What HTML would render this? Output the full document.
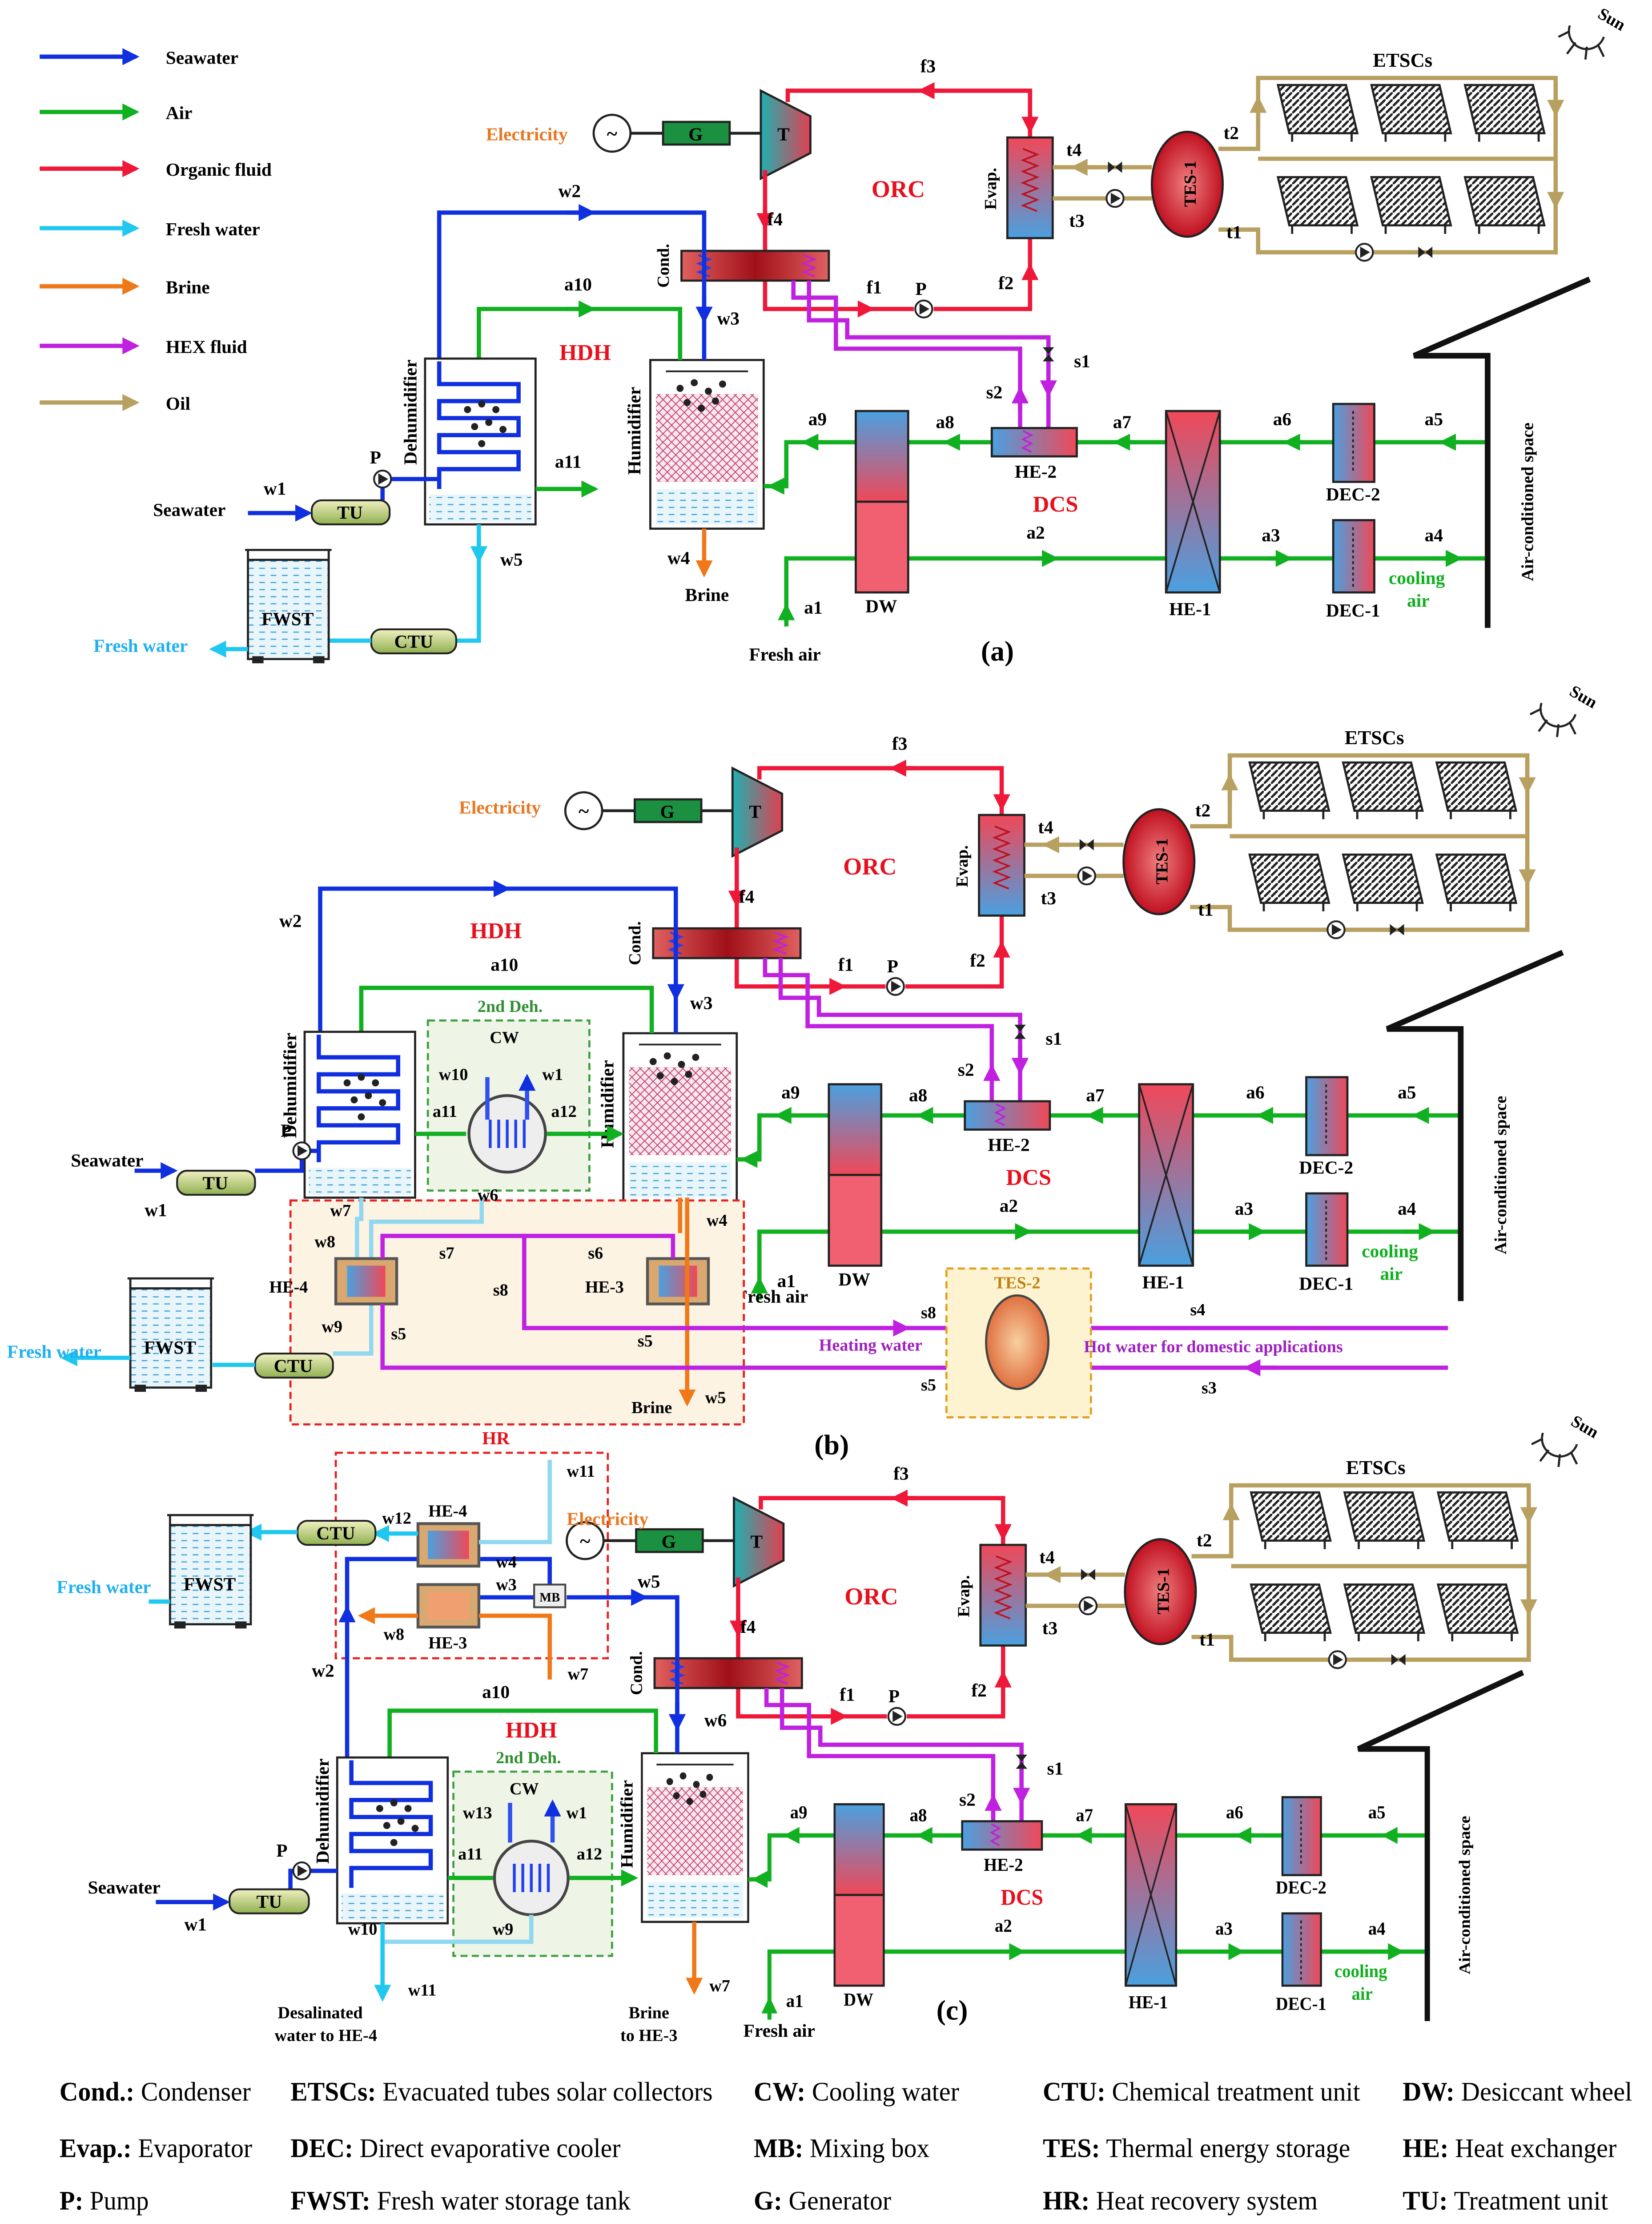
<!DOCTYPE html>
<html><head><meta charset="utf-8"><style>
html,body{margin:0;padding:0;background:#fff;overflow:hidden;width:3715px;height:5025px}
svg{display:block}
text{font-family:"Liberation Serif",serif;font-weight:bold}
text.n{font-weight:normal}
text.n tspan{font-weight:bold}
</style></head><body>
<svg xmlns="http://www.w3.org/2000/svg" xmlns:xlink="http://www.w3.org/1999/xlink" width="3715" height="5025" viewBox="0 0 1166 1577" preserveAspectRatio="none">
<defs>
<marker id="mb" viewBox="0 0 10 10" refX="8" refY="5" markerWidth="5" markerHeight="4" orient="auto"><path d="M0,0L10,5L0,10z" fill="#1030e0"/></marker>
<marker id="mg" viewBox="0 0 10 10" refX="8" refY="5" markerWidth="5" markerHeight="4" orient="auto"><path d="M0,0L10,5L0,10z" fill="#10b020"/></marker>
<marker id="mr" viewBox="0 0 10 10" refX="8" refY="5" markerWidth="5" markerHeight="4" orient="auto"><path d="M0,0L10,5L0,10z" fill="#f01838"/></marker>
<marker id="mc" viewBox="0 0 10 10" refX="8" refY="5" markerWidth="5" markerHeight="4" orient="auto"><path d="M0,0L10,5L0,10z" fill="#20c8f0"/></marker>
<marker id="mo" viewBox="0 0 10 10" refX="8" refY="5" markerWidth="5" markerHeight="4" orient="auto"><path d="M0,0L10,5L0,10z" fill="#f07818"/></marker>
<marker id="mp" viewBox="0 0 10 10" refX="8" refY="5" markerWidth="5" markerHeight="4" orient="auto"><path d="M0,0L10,5L0,10z" fill="#c020e0"/></marker>
<marker id="mt" viewBox="0 0 10 10" refX="8" refY="5" markerWidth="5" markerHeight="4" orient="auto"><path d="M0,0L10,5L0,10z" fill="#b8a060"/></marker>
<linearGradient id="gRB" x1="0" y1="0" x2="0" y2="1"><stop offset="0" stop-color="#f04858"/><stop offset="1" stop-color="#4aa0e0"/></linearGradient>
<linearGradient id="gBR" x1="0" y1="0" x2="0" y2="1"><stop offset="0" stop-color="#4aa0e0"/><stop offset="1" stop-color="#f04858"/></linearGradient>
<linearGradient id="gLR" x1="0" y1="0" x2="1" y2="0"><stop offset="0" stop-color="#4aa0e0"/><stop offset="1" stop-color="#f04858"/></linearGradient>
<linearGradient id="gCond" x1="0" y1="0" x2="1" y2="0"><stop offset="0" stop-color="#e06060"/><stop offset="0.5" stop-color="#a01018"/><stop offset="1" stop-color="#e06060"/></linearGradient>
<linearGradient id="gT" x1="0" y1="0" x2="1" y2="0"><stop offset="0" stop-color="#20b0b0"/><stop offset="1" stop-color="#e04050"/></linearGradient>
<radialGradient id="gTES"><stop offset="0" stop-color="#f08080"/><stop offset="1" stop-color="#c01020"/></radialGradient>
<linearGradient id="gTU" x1="0" y1="0" x2="0" y2="1"><stop offset="0" stop-color="#f0f0c0"/><stop offset="1" stop-color="#90b050"/></linearGradient>
<radialGradient id="gT2"><stop offset="0" stop-color="#f8d0a0"/><stop offset="1" stop-color="#e07040"/></radialGradient>
<pattern id="hatch" width="5" height="5" patternUnits="userSpaceOnUse"><rect width="5" height="5" fill="#fff"/><path d="M0,5L5,0" stroke="#222" stroke-width="1.6"/></pattern>
<pattern id="xh" width="6" height="6" patternUnits="userSpaceOnUse"><rect width="6" height="6" fill="#fbe8ee"/><path d="M0,6L6,0M0,0L6,6" stroke="#c04070" stroke-width="0.6"/></pattern>
<pattern id="wat" width="8" height="5" patternUnits="userSpaceOnUse"><rect width="8" height="5" fill="#e8f6fc"/><path d="M0,3h4" stroke="#40a0d0" stroke-width="0.8"/></pattern>

<g id="col"><polygon points="0,0 48,0 56,34 8,34" fill="url(#hatch)" stroke="#222" stroke-width="1.5"/><path d="M10,34v6M52,34v6" stroke="#222" stroke-width="1.5"/></g>
<g id="valve"><path d="M-5,-4L5,4L5,-4L-5,4z" fill="#222"/></g>
<g id="pump"><circle r="6" fill="#fff" stroke="#222" stroke-width="1.3"/><path d="M-3,-4L4,0L-3,4z" fill="#222"/></g>

<g id="T">
 <circle cx="432" cy="94" r="13" fill="#fff" stroke="#222" stroke-width="1.5"/>
 <text x="432" y="99" font-size="14" text-anchor="middle">~</text>
 <path d="M445,94H468M515,94H537" stroke="#222" stroke-width="2"/>
 <rect x="468" y="86" width="47" height="16" fill="#1a9040" stroke="#222" stroke-width="1.5"/>
 <text x="491" y="99" font-size="13" text-anchor="middle">G</text>
 <polygon points="537,64 572,82 572,108 537,126" fill="url(#gT)" stroke="#222" stroke-width="1.5"/>
 <text x="553" y="99" font-size="13" text-anchor="middle">T</text>
 <path d="M556,72V64H727V97" fill="none" stroke="#f01838" stroke-width="3"/>
 <path d="M665,64H650" stroke="#f01838" stroke-width="3" marker-end="url(#mr)"/>
 <path d="M727,80V92" stroke="#f01838" stroke-width="3" marker-end="url(#mr)"/>
 <path d="M540,120V218H645M659,218H727V168" fill="none" stroke="#f01838" stroke-width="3"/>
 <path d="M540,145V160" stroke="#f01838" stroke-width="3" marker-end="url(#mr)"/>
 <path d="M600,218H615" stroke="#f01838" stroke-width="3" marker-end="url(#mr)"/>
 <path d="M727,200V188" stroke="#f01838" stroke-width="3" marker-end="url(#mr)"/>
 <use xlink:href="#pump" x="652" y="218"/>
 <text x="650" y="208" font-size="13" text-anchor="middle">P</text>
 <text x="655" y="51" font-size="13" text-anchor="middle">f3</text>
 <text x="547" y="159" font-size="13" text-anchor="middle">f4</text>
 <text x="617" y="207" font-size="13" text-anchor="middle">f1</text>
 <text x="710" y="204" font-size="13" text-anchor="middle">f2</text>
 <text x="634" y="139" font-size="17" fill="#e8101c" text-anchor="middle">ORC</text>
 <rect x="481" y="177" width="104" height="21" fill="url(#gCond)" stroke="#222" stroke-width="1.5"/>
 <path d="M493,180l8,3l-8,3l8,3l-8,3l8,3" fill="none" stroke="#2040f0" stroke-width="1.2"/>
 <path d="M567,180l8,3l-8,3l8,3l-8,3l8,3" fill="none" stroke="#c020e0" stroke-width="1.2"/>
 <text transform="translate(472,203) rotate(-90)" font-size="12">Cond.</text>
 <path d="M571,198V226H598V238H740V302" fill="none" stroke="#c020e0" stroke-width="3"/>
 <path d="M560,198V210H590V246H720V302" fill="none" stroke="#c020e0" stroke-width="3"/>
 <path d="M740,260V278" stroke="#c020e0" stroke-width="3" marker-end="url(#mp)"/>
 <path d="M720,290V275" stroke="#c020e0" stroke-width="3" marker-end="url(#mp)"/>
 <use xlink:href="#valve" transform="translate(740,250) rotate(90)"/>
 <text x="758" y="259" font-size="13">s1</text>
 <text x="696" y="281" font-size="13">s2</text>
 <rect x="711" y="97" width="32" height="71" fill="url(#gRB)" stroke="#222" stroke-width="1.5"/>
 <path d="M722,105l10,4l-10,4l10,4l-10,4l10,4l-10,4l10,4l-10,4l10,4l-10,4l10,4" fill="none" stroke="#c01020" stroke-width="1.2"/>
 <text transform="translate(703,148) rotate(-90)" font-size="12">Evap.</text>
 <path d="M743,118H813M743,140H813" stroke="#b8a060" stroke-width="3"/>
 <path d="M775,118H758" stroke="#b8a060" stroke-width="3" marker-end="url(#mt)"/>
 <use xlink:href="#valve" x="787" y="118"/><use xlink:href="#pump" x="787" y="140"/>
 <text x="758" y="110" font-size="13" text-anchor="middle">t4</text>
 <text x="760" y="160" font-size="13" text-anchor="middle">t3</text>
 <ellipse cx="838" cy="130" rx="25" ry="37" fill="url(#gTES)" stroke="#222" stroke-width="1.5"/>
 <text transform="translate(844,146) rotate(-90)" font-size="12">TES-1</text>
 <path d="M860,105H888V55H1098V178H888V162H860" fill="none" stroke="#b8a060" stroke-width="3"/>
 <path d="M888,112H1098" stroke="#b8a060" stroke-width="3"/>
 <path d="M888,90V70" stroke="#b8a060" stroke-width="3" marker-end="url(#mt)"/>
 <path d="M1098,60V80" stroke="#b8a060" stroke-width="3" marker-end="url(#mt)"/>
 <path d="M1098,125V145" stroke="#b8a060" stroke-width="3" marker-end="url(#mt)"/>
 <use xlink:href="#pump" x="963" y="178"/><use xlink:href="#valve" x="1006" y="178"/>
 <text x="869" y="98" font-size="13" text-anchor="middle">t2</text>
 <text x="871" y="168" font-size="13" text-anchor="middle">t1</text>
 <use xlink:href="#col" x="902" y="60"/><use xlink:href="#col" x="968" y="60"/><use xlink:href="#col" x="1034" y="60"/>
 <use xlink:href="#col" x="902" y="125"/><use xlink:href="#col" x="968" y="125"/><use xlink:href="#col" x="1034" y="125"/>
 <text x="990" y="47" font-size="14" text-anchor="middle">ETSCs</text>
 <path d="M1108,18a12,12 0 0 0 24,8" fill="none" stroke="#222" stroke-width="1.5"/>
 <path d="M1108,22l-8,4M1112,30l-6,8M1120,33l-1,9M1128,32l4,8" stroke="#222" stroke-width="1.5"/>
 <text transform="translate(1127,12) rotate(30)" font-size="12">Sun</text>
 <path d="M497,208V226" stroke="#1030e0" stroke-width="3" marker-end="url(#mb)"/>
</g>

<g id="B">
 <rect x="459" y="254" width="80" height="119" fill="#fff" stroke="#222" stroke-width="1.5"/>
 <rect x="463" y="278" width="72" height="62" fill="url(#xh)"/>
 <rect x="463" y="345" width="72" height="25" fill="url(#wat)"/>
 <path d="M470,262H528" stroke="#222" stroke-width="1.2"/>
 <g fill="#222"><circle cx="480" cy="274" r="2.5"/><circle cx="490" cy="270" r="2.5"/><circle cx="500" cy="276" r="2.5"/><circle cx="510" cy="271" r="2.5"/><circle cx="485" cy="284" r="2.5"/><circle cx="495" cy="288" r="2.5"/><circle cx="505" cy="283" r="2.5"/></g>
 <text transform="translate(452,335) rotate(-90)" font-size="13">Humidifier</text>
 <path d="M1048,312H970M941,312H861M823,312H760M700,312H641M604,312H555V343H539" fill="none" stroke="#10b020" stroke-width="3"/>
 <path d="M1030,312H1018" stroke="#10b020" stroke-width="3" marker-end="url(#mg)"/>
 <path d="M920,312H908" stroke="#10b020" stroke-width="3" marker-end="url(#mg)"/>
 <path d="M800,312H788" stroke="#10b020" stroke-width="3" marker-end="url(#mg)"/>
 <path d="M680,312H668" stroke="#10b020" stroke-width="3" marker-end="url(#mg)"/>
 <path d="M580,312H568" stroke="#10b020" stroke-width="3" marker-end="url(#mg)"/>
 <path d="M555,343H544" stroke="#10b020" stroke-width="3" marker-end="url(#mg)"/>
 <path d="M555,442V394H604M641,394H823M861,394H941M970,394H1048" fill="none" stroke="#10b020" stroke-width="3"/>
 <path d="M555,440V428" stroke="#10b020" stroke-width="3" marker-end="url(#mg)"/>
 <path d="M730,394H745" stroke="#10b020" stroke-width="3" marker-end="url(#mg)"/>
 <path d="M895,394H910" stroke="#10b020" stroke-width="3" marker-end="url(#mg)"/>
 <path d="M1010,394H1030" stroke="#10b020" stroke-width="3" marker-end="url(#mg)"/>
 <rect x="604" y="290" width="37" height="64" fill="url(#gBR)" stroke="#222" stroke-width="1.5"/>
 <rect x="604" y="354" width="37" height="64" fill="#f06070" stroke="#222" stroke-width="1.5"/>
 <rect x="700" y="302" width="60" height="20" fill="url(#gLR)" stroke="#222" stroke-width="1.5"/>
 <path d="M722,304l6,3l-6,3l6,3l-6,3l6,3" fill="none" stroke="#c020e0" stroke-width="1.2"/>
 <rect x="823" y="290" width="38" height="128" fill="url(#gRB)" stroke="#222" stroke-width="1.5"/>
 <path d="M823,290L861,418M861,290L823,418" stroke="#222" stroke-width="1.2"/>
 <rect x="941" y="285" width="29" height="55" fill="url(#gLR)" stroke="#222" stroke-width="1.5"/>
 <rect x="941" y="367" width="29" height="51" fill="url(#gLR)" stroke="#222" stroke-width="1.5"/>
 <path d="M955,290V334M955,372V414" stroke="#222" stroke-width="1.2" stroke-dasharray="2,2"/>
 <text x="731" y="337" font-size="13" text-anchor="middle">HE-2</text>
 <text x="745" y="361" font-size="16" fill="#e8101c" text-anchor="middle">DCS</text>
 <text x="577" y="300" font-size="13" text-anchor="middle">a9</text>
 <text x="667" y="302" font-size="13" text-anchor="middle">a8</text>
 <text x="792" y="302" font-size="13" text-anchor="middle">a7</text>
 <text x="905" y="300" font-size="13" text-anchor="middle">a6</text>
 <text x="1012" y="300" font-size="13" text-anchor="middle">a5</text>
 <text x="731" y="380" font-size="13" text-anchor="middle">a2</text>
 <text x="897" y="382" font-size="13" text-anchor="middle">a3</text>
 <text x="1012" y="382" font-size="13" text-anchor="middle">a4</text>
 <text x="1000" y="412" font-size="13" fill="#10b020" text-anchor="middle">cooling</text>
 <text x="1001" y="428" font-size="13" fill="#10b020" text-anchor="middle">air</text>
 <text x="574" y="433" font-size="13" text-anchor="middle">a1</text>
 <text x="622" y="432" font-size="13" text-anchor="middle">DW</text>
 <text x="840" y="434" font-size="13" text-anchor="middle">HE-1</text>
 <text x="955" y="353" font-size="13" text-anchor="middle">DEC-2</text>
 <text x="955" y="435" font-size="13" text-anchor="middle">DEC-1</text>
 <path d="M1122,197L998,251H1050V443" fill="none" stroke="#111" stroke-width="4"/>
 <text transform="translate(1082,410) rotate(-90)" font-size="12">Air-conditioned space</text>
</g>

<g id="deh">
 <rect x="0" y="0" width="78" height="117" fill="#fff" stroke="#222" stroke-width="1.5"/>
 <path d="M10,2V18H66V30H10V42H66V54H10V66H66V78H10V92" fill="none" stroke="#1030e0" stroke-width="3"/>
 <g fill="#222"><circle cx="30" cy="36" r="2.5"/><circle cx="40" cy="32" r="2.5"/><circle cx="50" cy="36" r="2.5"/><circle cx="35" cy="48" r="2.5"/><circle cx="45" cy="45" r="2.5"/><circle cx="55" cy="50" r="2.5"/><circle cx="40" cy="60" r="2.5"/></g>
 <rect x="3" y="96" width="72" height="19" fill="url(#wat)"/>
 <text transform="translate(-6,75) rotate(-90)" font-size="13">Dehumidifier</text>
</g>
<g id="fwst">
 <rect x="0" y="12" width="57" height="70" fill="url(#wat)" stroke="#222" stroke-width="1.5"/>
 <path d="M-2,5H59M0,5V12M57,5V12" stroke="#222" stroke-width="1.5"/>
 <rect x="3" y="80" width="8" height="5" fill="#222"/><rect x="46" y="80" width="8" height="5" fill="#222"/>
 <text x="28" y="58" font-size="13" text-anchor="middle">FWST</text>
</g>
</defs>

<rect width="1166" height="1577" fill="#fff"/>

<g font-size="13">
<path d="M28,40H96" stroke="#1030e0" stroke-width="3" marker-end="url(#mb)"/><text x="117" y="45">Seawater</text>
<path d="M28,79H96" stroke="#10b020" stroke-width="3" marker-end="url(#mg)"/><text x="117" y="84">Air</text>
<path d="M28,119H96" stroke="#f01838" stroke-width="3" marker-end="url(#mr)"/><text x="117" y="124">Organic fluid</text>
<path d="M28,161H96" stroke="#20c8f0" stroke-width="3" marker-end="url(#mc)"/><text x="117" y="166">Fresh water</text>
<path d="M28,202H96" stroke="#f07818" stroke-width="3" marker-end="url(#mo)"/><text x="117" y="207">Brine</text>
<path d="M28,244H96" stroke="#c020e0" stroke-width="3" marker-end="url(#mp)"/><text x="117" y="249">HEX fluid</text>
<path d="M28,284H96" stroke="#b8a060" stroke-width="3" marker-end="url(#mt)"/><text x="117" y="289">Oil</text>
</g>

<!-- Panel (a) -->
<use xlink:href="#T"/>
<use xlink:href="#B"/>
<path d="M497,373V405" stroke="#f07818" stroke-width="3" marker-end="url(#mo)"/>
<text x="479" y="398" font-size="13" text-anchor="middle">w4</text>
<text x="499" y="424" font-size="13" text-anchor="middle">Brine</text>
<text x="554" y="466" font-size="13" text-anchor="middle">Fresh air</text>
<text x="343" y="99" font-size="13" fill="#e87722">Electricity</text>
<path d="M310,255V150H497V254" fill="none" stroke="#1030e0" stroke-width="3"/>
<path d="M400,150H418" stroke="#1030e0" stroke-width="3" marker-end="url(#mb)"/>
<text x="402" y="139" font-size="13" text-anchor="middle">w2</text>
<text x="514" y="229" font-size="13" text-anchor="middle">w3</text>
<path d="M338,253V218H480V254" fill="none" stroke="#10b020" stroke-width="3"/>
<path d="M400,218H418" stroke="#10b020" stroke-width="3" marker-end="url(#mg)"/>
<text x="408" y="205" font-size="13" text-anchor="middle">a10</text>
<text x="413" y="254" font-size="16" fill="#e8101c" text-anchor="middle">HDH</text>
<use xlink:href="#deh" x="300" y="253"/>
<path d="M378,345H420" stroke="#10b020" stroke-width="3" marker-end="url(#mg)"/>
<text x="401" y="330" font-size="13" text-anchor="middle">a11</text>
<path d="M175,362H218" stroke="#1030e0" stroke-width="3" marker-end="url(#mb)"/>
<path d="M270,353V338H310" fill="none" stroke="#1030e0" stroke-width="3"/>
<use xlink:href="#pump" x="270" y="338"/>
<text x="261" y="327" font-size="13">P</text>
<rect x="220" y="353" width="55" height="17" rx="7" fill="url(#gTU)" stroke="#222" stroke-width="1.3"/>
<text x="247" y="366" font-size="13" text-anchor="middle">TU</text>
<text x="108" y="364" font-size="13">Seawater</text>
<text x="194" y="349" font-size="13" text-anchor="middle">w1</text>
<path d="M338,370V452H322" fill="none" stroke="#20c8f0" stroke-width="3"/>
<path d="M338,380V395" stroke="#20c8f0" stroke-width="3" marker-end="url(#mc)"/>
<text x="361" y="399" font-size="13" text-anchor="middle">w5</text>
<rect x="262" y="444" width="60" height="17" rx="7" fill="url(#gTU)" stroke="#222" stroke-width="1.3"/>
<text x="292" y="457" font-size="13" text-anchor="middle">CTU</text>
<path d="M262,452H232" stroke="#20c8f0" stroke-width="3"/>
<use xlink:href="#fwst" x="175" y="383"/>
<path d="M175,458H150" stroke="#20c8f0" stroke-width="3" marker-end="url(#mc)"/>
<text x="66" y="460" font-size="13" fill="#20b0f0">Fresh water</text>
<text x="704" y="466" font-size="20" text-anchor="middle">(a)</text>

<!-- Panel (b) -->
<use xlink:href="#T" transform="translate(-20,478)"/>
<use xlink:href="#B" transform="translate(-19,475)"/>
<text x="545" y="919" font-size="13" text-anchor="middle">Fresh air</text>
<text x="324" y="574" font-size="13" fill="#e87722">Electricity</text>
<path d="M226,740V627H477V729" fill="none" stroke="#1030e0" stroke-width="3"/>
<path d="M340,627H358" stroke="#1030e0" stroke-width="3" marker-end="url(#mb)"/>
<text x="205" y="654" font-size="13" text-anchor="middle">w2</text>
<text x="495" y="712" font-size="13" text-anchor="middle">w3</text>
<path d="M255,728V697H460V729" fill="none" stroke="#10b020" stroke-width="3"/>
<text x="356" y="685" font-size="13" text-anchor="middle">a10</text>
<text x="350" y="662" font-size="16" fill="#e8101c" text-anchor="middle">HDH</text>
<use xlink:href="#deh" x="215" y="728"/>
<rect x="302" y="720" width="114" height="120" fill="#eef5e6" stroke="#40a040" stroke-width="1.5" stroke-dasharray="5,3"/>
<text x="360" y="714" font-size="12" fill="#309030" text-anchor="middle">2nd Deh.</text>
<text x="356" y="736" font-size="12" text-anchor="middle">CW</text>
<circle cx="358" cy="800" r="27" fill="#eee" stroke="#444" stroke-width="2"/>
<path d="M346,790v20M352,790v20M358,790v20M364,790v20M370,790v20" stroke="#2040f0" stroke-width="2"/>
<path d="M344,760V790M372,790V760" stroke="#3050f0" stroke-width="3" marker-end="url(#mb)"/>
<text x="320" y="762" font-size="12" text-anchor="middle">w10</text>
<text x="390" y="762" font-size="12" text-anchor="middle">w1</text>
<text x="314" y="788" font-size="12" text-anchor="middle">a11</text>
<text x="398" y="788" font-size="12" text-anchor="middle">a12</text>
<path d="M293,800H329M386,800H438" stroke="#10b020" stroke-width="3" marker-end="url(#mg)"/>
<path d="M95,826H123" stroke="#1030e0" stroke-width="3" marker-end="url(#mb)"/>
<path d="M180,826H213V812H226" fill="none" stroke="#1030e0" stroke-width="3"/>
<use xlink:href="#pump" x="213" y="812"/>
<text x="198" y="802" font-size="13">P</text>
<rect x="125" y="826" width="55" height="17" rx="7" fill="url(#gTU)" stroke="#222" stroke-width="1.3"/>
<text x="152" y="839" font-size="13" text-anchor="middle">TU</text>
<text x="50" y="823" font-size="13">Seawater</text>
<text x="110" y="858" font-size="13" text-anchor="middle">w1</text>
<rect x="205" y="847" width="320" height="158" fill="#fdf3e3" stroke="#e82020" stroke-width="1.5" stroke-dasharray="5,3"/>
<path d="M255,845V860H252V888M340,845V862H262V888" fill="none" stroke="#90d8f0" stroke-width="3"/>
<text x="233" y="858" font-size="12">w7</text><text x="222" y="880" font-size="12">w8</text><text x="337" y="847" font-size="12">w6</text>
<path d="M262,920V955H235" fill="none" stroke="#90d8f0" stroke-width="3"/>
<text x="227" y="940" font-size="12">w9</text>
<rect x="237" y="888" width="43" height="32" fill="#d8a870" stroke="#555" stroke-width="2"/>
<rect x="245" y="893" width="27" height="22" fill="url(#gLR)"/>
<rect x="457" y="888" width="43" height="32" fill="#d8a870" stroke="#555" stroke-width="2"/>
<rect x="465" y="893" width="27" height="22" fill="url(#gLR)"/>
<text x="190" y="912" font-size="12">HE-4</text><text x="413" y="912" font-size="12">HE-3</text>
<path d="M485,845V990" stroke="#f07818" stroke-width="3" marker-end="url(#mo)"/>
<path d="M480,845V870" stroke="#f07818" stroke-width="3"/>
<text x="506" y="865" font-size="12" text-anchor="middle">w4</text>
<text x="505" y="990" font-size="12" text-anchor="middle">w5</text>
<text x="460" y="997" font-size="12" text-anchor="middle">Brine</text>
<path d="M270,888V872H475V888M370,872V937H1022M1022,965H270V920" fill="none" stroke="#c020e0" stroke-width="3"/>
<text x="310" y="888" font-size="12">s7</text><text x="415" y="888" font-size="12">s6</text>
<text x="348" y="914" font-size="12">s8</text><text x="276" y="945" font-size="12">s5</text><text x="450" y="950" font-size="12">s5</text>
<path d="M620,937H640" stroke="#c020e0" stroke-width="3" marker-end="url(#mp)"/>
<path d="M900,965H880" stroke="#c020e0" stroke-width="3" marker-end="url(#mp)"/>
<rect x="668" y="895" width="102" height="105" fill="#fdf3d0" stroke="#e0a020" stroke-width="1.5" stroke-dasharray="5,3"/>
<ellipse cx="718" cy="947" rx="22" ry="33" fill="url(#gT2)" stroke="#444" stroke-width="1.5"/>
<text x="718" y="909" font-size="12" fill="#c08010" text-anchor="middle">TES-2</text>
<text x="578" y="953" font-size="12" fill="#a020c0">Heating water</text>
<text x="765" y="954" font-size="12" fill="#a020c0">Hot water for domestic applications</text>
<text x="650" y="930" font-size="12">s8</text><text x="840" y="928" font-size="12">s4</text>
<text x="650" y="981" font-size="12">s5</text><text x="848" y="983" font-size="12">s3</text>
<rect x="180" y="955" width="55" height="17" rx="7" fill="url(#gTU)" stroke="#222" stroke-width="1.3"/>
<text x="207" y="968" font-size="13" text-anchor="middle">CTU</text>
<path d="M180,963H150" stroke="#20c8f0" stroke-width="3"/>
<use xlink:href="#fwst" x="92" y="897"/>
<path d="M92,958H45" stroke="#20c8f0" stroke-width="3" marker-end="url(#mc)"/>
<text x="5" y="958" font-size="13" fill="#20b0f0">Fresh water</text>
<text x="587" y="1026" font-size="20" text-anchor="middle">(b)</text>

<!-- Panel (c) -->
<use xlink:href="#T" transform="translate(-19,993)"/>
<use xlink:href="#B" transform="matrix(0.938,0,0,1,22.5,983)"/>
<text x="550" y="1437" font-size="13" text-anchor="middle">Fresh air</text>
<rect x="237" y="1025" width="192" height="145" fill="none" stroke="#e82020" stroke-width="1.5" stroke-dasharray="5,3"/>
<text x="350" y="1019" font-size="13" fill="#e8101c" text-anchor="middle">HR</text>
<text x="400" y="1076" font-size="13" fill="#e87722">Electricity</text>
<path d="M245,1240V1135" stroke="#1030e0" stroke-width="3" marker-end="url(#mb)"/>
<path d="M245,1135V1100H295" fill="none" stroke="#1030e0" stroke-width="3"/>
<text x="228" y="1183" font-size="13" text-anchor="middle">w2</text>
<path d="M338,1100H388V1118M338,1127H377" fill="none" stroke="#1030e0" stroke-width="3"/>
<path d="M400,1127H478V1237" fill="none" stroke="#1030e0" stroke-width="3"/>
<path d="M440,1127H455" stroke="#1030e0" stroke-width="3" marker-end="url(#mb)"/>
<text x="458" y="1120" font-size="13" text-anchor="middle">w5</text>
<text x="505" y="1218" font-size="13" text-anchor="middle">w6</text>
<rect x="377" y="1118" width="22" height="16" fill="#eee" stroke="#444" stroke-width="1.3"/>
<text x="388" y="1130" font-size="9" text-anchor="middle">MB</text>
<text x="350" y="1106" font-size="12">w4</text><text x="350" y="1122" font-size="12">w3</text>
<rect x="295" y="1075" width="43" height="30" fill="#d8a870" stroke="#555" stroke-width="2"/>
<rect x="302" y="1080" width="29" height="20" fill="url(#gLR)"/>
<rect x="295" y="1118" width="43" height="30" fill="#d8a870" stroke="#555" stroke-width="2"/>
<rect x="302" y="1123" width="29" height="20" fill="#f0a070"/>
<text x="316" y="1070" font-size="12" text-anchor="middle">HE-4</text>
<text x="316" y="1163" font-size="12" text-anchor="middle">HE-3</text>
<path d="M388,1030V1088H338" fill="none" stroke="#90d8f0" stroke-width="3"/>
<path d="M295,1082H265" stroke="#20c8f0" stroke-width="3" marker-end="url(#mc)"/>
<text x="410" y="1042" font-size="12" text-anchor="middle">w11</text>
<text x="280" y="1075" font-size="12" text-anchor="middle">w12</text>
<path d="M388,1185V1140H338" stroke="#f07818" stroke-width="3" fill="none"/>
<path d="M295,1140H255" stroke="#f07818" stroke-width="3" marker-end="url(#mo)"/>
<text x="278" y="1157" font-size="12" text-anchor="middle">w8</text>
<text x="408" y="1185" font-size="12" text-anchor="middle">w7</text>
<rect x="210" y="1073" width="55" height="17" rx="7" fill="url(#gTU)" stroke="#222" stroke-width="1.3"/>
<text x="237" y="1086" font-size="13" text-anchor="middle">CTU</text>
<path d="M210,1081H175" stroke="#20c8f0" stroke-width="3" marker-end="url(#mc)"/>
<use xlink:href="#fwst" x="120" y="1064"/>
<path d="M120,1130H105" stroke="#20c8f0" stroke-width="3"/>
<text x="40" y="1124" font-size="13" fill="#20b0f0">Fresh water</text>
<path d="M275,1240V1207H463V1237" fill="none" stroke="#10b020" stroke-width="3"/>
<text x="350" y="1198" font-size="13" text-anchor="middle">a10</text>
<text x="375" y="1226" font-size="16" fill="#e8101c" text-anchor="middle">HDH</text>
<use xlink:href="#deh" x="238" y="1240"/>
<rect x="320" y="1250" width="112" height="130" fill="#eef5e6" stroke="#40a040" stroke-width="1.5" stroke-dasharray="5,3"/>
<text x="373" y="1244" font-size="12" fill="#309030" text-anchor="middle">2nd Deh.</text>
<text x="370" y="1266" font-size="12" text-anchor="middle">CW</text>
<circle cx="375" cy="1325" r="26" fill="#eee" stroke="#444" stroke-width="2"/>
<path d="M363,1315v20M369,1315v20M375,1315v20M381,1315v20M387,1315v20" stroke="#2040f0" stroke-width="2"/>
<path d="M360,1272V1300M390,1300V1272" stroke="#3050f0" stroke-width="3" marker-end="url(#mb)"/>
<text x="337" y="1283" font-size="12" text-anchor="middle">w13</text>
<text x="407" y="1283" font-size="12" text-anchor="middle">w1</text>
<text x="332" y="1312" font-size="12" text-anchor="middle">a11</text>
<text x="416" y="1312" font-size="12" text-anchor="middle">a12</text>
<path d="M316,1325H348M402,1325H448" stroke="#10b020" stroke-width="3" marker-end="url(#mg)"/>
<path d="M375,1351V1370H270" stroke="#90d8f0" stroke-width="3" fill="none"/>
<text x="355" y="1365" font-size="12" text-anchor="middle">w9</text>
<path d="M270,1357V1410" stroke="#20c8f0" stroke-width="3" marker-end="url(#mc)"/>
<text x="256" y="1365" font-size="12" text-anchor="middle">w10</text>
<text x="298" y="1408" font-size="12" text-anchor="middle">w11</text>
<text x="226" y="1424" font-size="12" text-anchor="middle">Desalinated</text>
<text x="230" y="1440" font-size="12" text-anchor="middle">water to HE-4</text>
<path d="M490,1356V1405" stroke="#f07818" stroke-width="3" marker-end="url(#mo)"/>
<text x="508" y="1405" font-size="12" text-anchor="middle">w7</text>
<text x="458" y="1424" font-size="12" text-anchor="middle">Brine</text>
<text x="458" y="1440" font-size="12" text-anchor="middle">to HE-3</text>
<path d="M110,1342H160" stroke="#1030e0" stroke-width="3" marker-end="url(#mb)"/>
<path d="M205,1333V1320H238" fill="none" stroke="#1030e0" stroke-width="3"/>
<use xlink:href="#pump" x="213" y="1320"/>
<text x="195" y="1310" font-size="13">P</text>
<rect x="162" y="1333" width="56" height="17" rx="7" fill="url(#gTU)" stroke="#222" stroke-width="1.3"/>
<text x="190" y="1346" font-size="13" text-anchor="middle">TU</text>
<text x="62" y="1336" font-size="13">Seawater</text>
<text x="138" y="1362" font-size="13" text-anchor="middle">w1</text>
<text x="672" y="1425" font-size="20" text-anchor="middle">(c)</text>

<g font-size="19">
<text class="n" x="42" y="1482" textLength="135" lengthAdjust="spacingAndGlyphs"><tspan>Cond.:</tspan> Condenser</text>
<text class="n" x="205" y="1482" textLength="298" lengthAdjust="spacingAndGlyphs"><tspan>ETSCs:</tspan> Evacuated tubes solar collectors</text>
<text class="n" x="532" y="1482" textLength="145" lengthAdjust="spacingAndGlyphs"><tspan>CW:</tspan> Cooling water</text>
<text class="n" x="736" y="1482" textLength="224" lengthAdjust="spacingAndGlyphs"><tspan>CTU:</tspan> Chemical treatment unit</text>
<text class="n" x="990" y="1482" textLength="162" lengthAdjust="spacingAndGlyphs"><tspan>DW:</tspan> Desiccant wheel</text>
<text class="n" x="42" y="1522" textLength="136" lengthAdjust="spacingAndGlyphs"><tspan>Evap.:</tspan> Evaporator</text>
<text class="n" x="205" y="1522" textLength="233" lengthAdjust="spacingAndGlyphs"><tspan>DEC:</tspan> Direct evaporative cooler</text>
<text class="n" x="532" y="1522" textLength="124" lengthAdjust="spacingAndGlyphs"><tspan>MB:</tspan> Mixing box</text>
<text class="n" x="736" y="1522" textLength="217" lengthAdjust="spacingAndGlyphs"><tspan>TES:</tspan> Thermal energy storage</text>
<text class="n" x="990" y="1522" textLength="151" lengthAdjust="spacingAndGlyphs"><tspan>HE:</tspan> Heat exchanger</text>
<text class="n" x="42" y="1559" textLength="63" lengthAdjust="spacingAndGlyphs"><tspan>P:</tspan> Pump</text>
<text class="n" x="205" y="1559" textLength="240" lengthAdjust="spacingAndGlyphs"><tspan>FWST:</tspan> Fresh water storage tank</text>
<text class="n" x="532" y="1559" textLength="97" lengthAdjust="spacingAndGlyphs"><tspan>G:</tspan> Generator</text>
<text class="n" x="736" y="1559" textLength="194" lengthAdjust="spacingAndGlyphs"><tspan>HR:</tspan> Heat recovery system</text>
<text class="n" x="990" y="1559" textLength="145" lengthAdjust="spacingAndGlyphs"><tspan>TU:</tspan> Treatment unit</text>
</g>
</svg>
</body></html>
